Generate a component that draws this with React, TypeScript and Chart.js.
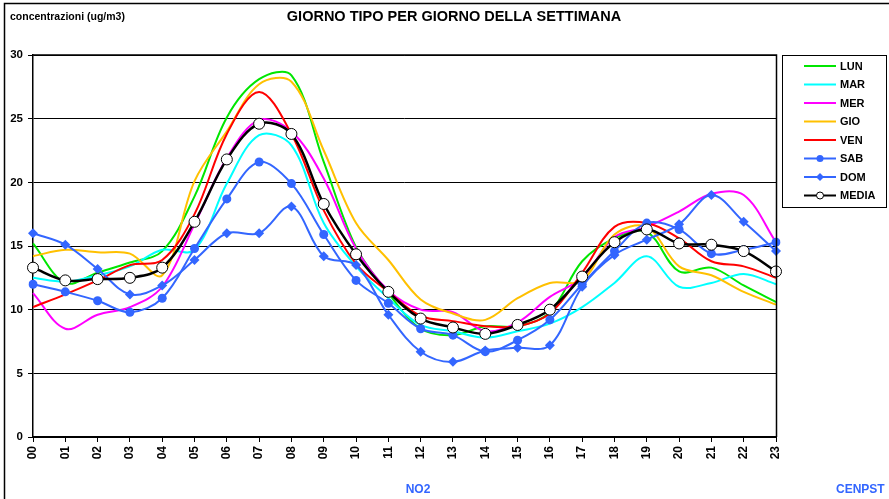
import React, { useEffect, useRef } from "react";
import { Chart, registerables } from "chart.js";

Chart.register(...registerables);

const hours = ["00","01","02","03","04","05","06","07","08","09","10","11","12","13","14","15","16","17","18","19","20","21","22","23"];

const lun = [15.2, 12.1, 12.9, 13.7, 14.6, 18.9, 25.1, 28.1, 28.4, 21.6, 14.9, 11.3, 8.5, 8.0, 8.7, 8.7, 9.8, 13.8, 15.6, 16.1, 13.0, 13.3, 11.9, 10.6];
const mar = [12.5, 12.2, 12.7, 13.4, 14.7, 14.7, 19.9, 23.7, 22.9, 16.8, 13.4, 10.9, 8.8, 8.3, 7.8, 8.3, 8.9, 10.2, 12.1, 14.2, 11.8, 12.1, 12.8, 12.0];
const mer = [11.3, 8.5, 9.6, 10.2, 11.8, 16.7, 21.9, 24.9, 24.0, 20.3, 14.8, 11.5, 10.0, 9.8, 8.3, 9.0, 11.0, 12.5, 15.7, 16.5, 17.7, 19.1, 19.0, 15.3];
const gio = [14.2, 14.7, 14.5, 14.4, 12.7, 20.1, 24.0, 27.7, 27.9, 22.5, 16.8, 13.9, 10.8, 9.7, 9.2, 10.9, 12.1, 12.3, 15.9, 16.5, 13.4, 12.7, 11.4, 10.4];
const ven = [10.2, 11.2, 12.3, 13.5, 13.9, 17.5, 23.8, 27.1, 23.8, 17.8, 13.6, 11.4, 9.5, 9.1, 8.7, 8.7, 9.7, 12.9, 16.5, 16.8, 15.6, 13.8, 13.4, 12.5];
const sab = [12.0, 11.4, 10.7, 9.8, 10.9, 14.8, 18.7, 21.6, 19.9, 15.9, 12.3, 10.5, 8.5, 8.0, 6.7, 7.6, 9.2, 12.0, 14.6, 16.8, 16.3, 14.4, 14.7, 15.3];
const dom = [16.0, 15.1, 13.2, 11.2, 11.9, 13.9, 16.0, 16.0, 18.1, 14.2, 13.5, 9.6, 6.7, 5.9, 6.8, 7.0, 7.2, 11.8, 14.3, 15.5, 16.7, 19.0, 16.9, 14.6];
const media = [13.3, 12.3, 12.4, 12.5, 13.3, 16.9, 21.8, 24.6, 23.8, 18.3, 14.35, 11.4, 9.3, 8.6, 8.1, 8.8, 10.0, 12.6, 15.3, 16.3, 15.2, 15.1, 14.6, 13.0];

const yTicks = [0, 5, 10, 15, 20, 25, 30];

const BLUE = "#3366ff";
const FONT = "'Liberation Sans', Arial, sans-serif";

type Series = { name: string; data: number[]; color: string; style: string };
const series: Series[] = [
  { name: "LUN", data: lun, color: "#00e600", style: "none" },
  { name: "MAR", data: mar, color: "#00ffff", style: "none" },
  { name: "MER", data: mer, color: "#ff00ff", style: "none" },
  { name: "GIO", data: gio, color: "#ffc000", style: "none" },
  { name: "VEN", data: ven, color: "#ff0000", style: "none" },
  { name: "SAB", data: sab, color: BLUE, style: "circle" },
  { name: "DOM", data: dom, color: BLUE, style: "rectRot" },
  { name: "MEDIA", data: media, color: "#000000", style: "media" },
];

const decorations = {
  id: "decorations",
  afterDraw(chart: any) {
    const ctx = chart.ctx as CanvasRenderingContext2D;
    const area = chart.chartArea;
    ctx.save();
    // outer frame
    ctx.strokeStyle = "#000";
    ctx.lineWidth = 1.5;
    ctx.beginPath();
    ctx.moveTo(4.5, 499);
    ctx.lineTo(4.5, 3.5);
    ctx.lineTo(889, 3.5);
    ctx.stroke();
    // plot border top/right
    ctx.lineWidth = 1.5;
    ctx.beginPath();
    ctx.moveTo(area.left, area.top);
    ctx.lineTo(area.right + 0.5, area.top);
    ctx.lineTo(area.right + 0.5, area.bottom);
    ctx.stroke();
    // texts
    ctx.fillStyle = "#000";
    ctx.textBaseline = "middle";
    ctx.font = `bold 10.5px ${FONT}`;
    ctx.textAlign = "left";
    ctx.fillText("concentrazioni (ug/m3)", 10, 17);
    ctx.font = `bold 14.5px ${FONT}`;
    ctx.textAlign = "center";
    ctx.fillText("GIORNO TIPO PER GIORNO DELLA SETTIMANA", 454, 17);
    ctx.fillStyle = BLUE;
    ctx.font = `bold 12px ${FONT}`;
    ctx.fillText("NO2", 418, 490);
    ctx.textAlign = "left";
    ctx.fillText("CENPST", 836, 490);
    // legend
    const lx = 782.5, ly = 55.5, lw = 104, lh = 152;
    ctx.strokeStyle = "#000";
    ctx.lineWidth = 1;
    ctx.fillStyle = "#fff";
    ctx.fillRect(lx, ly, lw, lh);
    ctx.strokeRect(lx, ly, lw, lh);
    series.forEach((s, i) => {
      const y = 66 + i * 18.5;
      ctx.strokeStyle = s.color;
      ctx.lineWidth = 2;
      ctx.beginPath();
      ctx.moveTo(804, y);
      ctx.lineTo(836, y);
      ctx.stroke();
      if (s.style === "circle") {
        ctx.fillStyle = s.color;
        ctx.beginPath();
        ctx.arc(820, y, 3.5, 0, Math.PI * 2);
        ctx.fill();
      } else if (s.style === "rectRot") {
        ctx.fillStyle = s.color;
        ctx.beginPath();
        ctx.moveTo(820, y - 4);
        ctx.lineTo(824, y);
        ctx.lineTo(820, y + 4);
        ctx.lineTo(816, y);
        ctx.closePath();
        ctx.fill();
      } else if (s.style === "media") {
        ctx.fillStyle = "#fff";
        ctx.lineWidth = 1;
        ctx.beginPath();
        ctx.arc(820, y, 3.5, 0, Math.PI * 2);
        ctx.fill();
        ctx.stroke();
      }
      ctx.fillStyle = "#000";
      ctx.font = `bold 11px ${FONT}`;
      ctx.textAlign = "left";
      ctx.fillText(s.name, 840, y + 0.5);
    });
    ctx.restore();
  },
};

export default function App() {
  const ref = useRef<HTMLCanvasElement | null>(null);
  useEffect(() => {
    if (!ref.current) return;
    const datasets = series.map((s, i) => {
      const base: any = {
        label: s.name,
        data: s.data,
        borderColor: s.color,
        backgroundColor: s.color,
        borderWidth: 2,
        tension: 0.35,
        order: series.length - 1 - i,
        pointRadius: 0,
        pointHoverRadius: 0,
        fill: false,
      };
      if (s.style === "circle") {
        base.pointStyle = "circle";
        base.pointRadius = 4.5;
        base.pointBorderWidth = 0;
      } else if (s.style === "rectRot") {
        base.pointStyle = "rectRot";
        base.pointRadius = 5;
        base.pointBorderWidth = 0;
      } else if (s.style === "media") {
        base.pointStyle = "circle";
        base.pointRadius = 5.5;
        base.pointBackgroundColor = "#fff";
        base.pointBorderColor = "#000";
        base.pointBorderWidth = 1;
        base.borderWidth = 2.5;
      }
      return base;
    });
    const chart = new Chart(ref.current, {
      type: "line",
      data: { labels: hours, datasets },
      options: {
        animation: false,
        responsive: false,
        layout: { padding: { left: 0, top: 55, right: 113, bottom: 0 } },
        plugins: { legend: { display: false }, tooltip: { enabled: false }, title: { display: false } },
        scales: {
          x: {
            offset: false,
            afterFit: (s: any) => { s.height = 62; },
            grid: { drawOnChartArea: false, drawTicks: true, tickLength: 5, color: "#000", lineWidth: 1 },
            border: { color: "#000", width: 2 },
            ticks: {
              autoSkip: false,
              maxRotation: 90,
              minRotation: 90,
              padding: 4,
              color: "#000",
              font: { family: FONT, size: 12, weight: "bold" },
            },
          },
          y: {
            min: 0,
            max: 30,
            afterFit: (s: any) => { s.width = 33; },
            afterBuildTicks: (s: any) => { s.ticks = yTicks.map((v) => ({ value: v })); },
            grid: { color: "#000", lineWidth: 1, tickLength: 5, drawTicks: true },
            border: { color: "#000", width: 1.5 },
            ticks: {
              stepSize: 5,
              padding: 5,
              color: "#000",
              font: { family: FONT, size: 11.5, weight: "bold" },
            },
          },
        },
      },
      plugins: [decorations],
    });
    return () => chart.destroy();
  }, []);
  return (
    <div style={{ position: "fixed", left: 0, top: 0, width: 889, height: 499, background: "#fff" }}>
      <canvas ref={ref} width={889} height={499} style={{ width: 889, height: 499, display: "block" }} />
    </div>
  );
}
